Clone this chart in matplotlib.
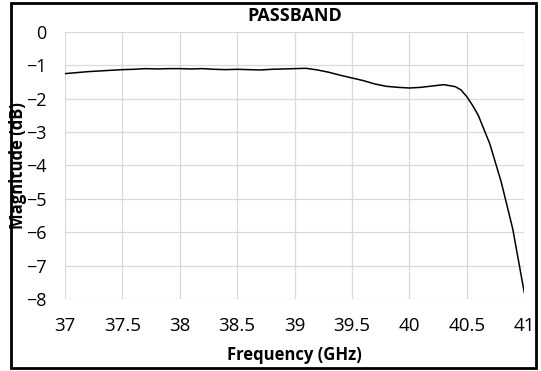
import matplotlib.pyplot as plt
from matplotlib.patches import Rectangle

plt.rcParams['font.family'] = ['Open Sans', 'DejaVu Sans']

freq = [37.0, 37.1, 37.2, 37.3, 37.4, 37.5, 37.6, 37.7, 37.8, 37.9,
        38.0, 38.1, 38.2, 38.3, 38.4, 38.5, 38.6, 38.7, 38.8, 38.9,
        39.0, 39.1, 39.2, 39.3, 39.4, 39.5, 39.6, 39.7, 39.8, 39.9,
        40.0, 40.1, 40.2, 40.3, 40.4, 40.45, 40.5, 40.55, 40.6, 40.7,
        40.8, 40.9, 41.0]
mag = [-1.25, -1.22, -1.19, -1.17, -1.15, -1.13, -1.12, -1.10, -1.11, -1.10,
       -1.10, -1.11, -1.10, -1.12, -1.13, -1.12, -1.13, -1.14, -1.12, -1.11,
       -1.10, -1.09, -1.14, -1.21, -1.30, -1.38, -1.46, -1.56, -1.63, -1.66,
       -1.68, -1.66, -1.62, -1.58, -1.64, -1.74, -1.94, -2.20, -2.50, -3.35,
       -4.50, -5.90, -7.80]
xticks = [37, 37.5, 38, 38.5, 39, 39.5, 40, 40.5, 41]
xticklabels = ['37', '37.5', '38', '38.5', '39', '39.5', '40', '40.5', '41']
yticks = [0, -1, -2, -3, -4, -5, -6, -7, -8]

fig = plt.figure(figsize=(5.41, 3.71), dpi=100)
ax = fig.add_axes([0.120, 0.194, 0.849, 0.720])

ax.plot(freq, mag, color='black', lw=1.1)

ax.set_xlim(37, 41)
ax.set_ylim(-8, 0)
ax.set_xticks(xticks)
ax.set_xticklabels(xticklabels)
ax.set_yticks(yticks)
ax.grid(True, color='#d9d9d9', lw=0.9)
ax.set_axisbelow(True)
for s in ax.spines.values():
    s.set_visible(False)
ax.tick_params(axis='x', length=0, labelsize=13.5, pad=13)
ax.tick_params(axis='y', length=0, labelsize=13, pad=13)

fig.text(0.545, 0.957, 'PASSBAND', ha='center', va='center', fontsize=13, fontweight='bold')
fig.text(0.545, 0.043, 'Frequency (GHz)', ha='center', va='center', fontsize=12, fontweight='bold')
fig.text(0.034, 0.553, 'Magnitude (dB)', ha='center', va='center', rotation=90,
         fontsize=12, fontweight='bold')

# outer frame like the exported excel chart
fig.patches.append(Rectangle((11 / 541, 3 / 371), 525 / 541, 365 / 371,
                             transform=fig.transFigure, fill=False,
                             edgecolor='black', lw=2))

fig.savefig('out.png', dpi=100)
